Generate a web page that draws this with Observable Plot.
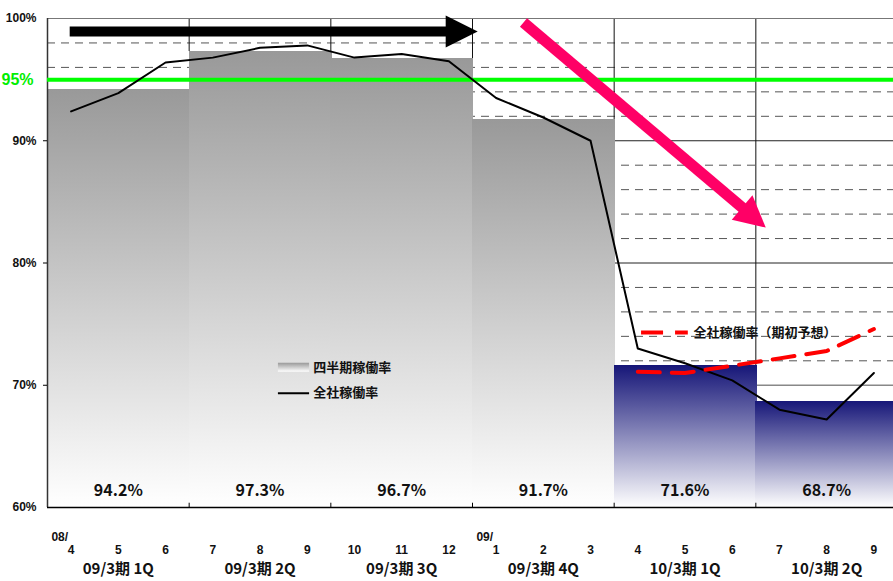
<!DOCTYPE html>
<html><head><meta charset="utf-8">
<script src="https://cdn.jsdelivr.net/npm/d3@7"></script>
<script src="https://cdn.jsdelivr.net/npm/@observablehq/plot@0.6"></script>
<style>body{margin:0;background:#fff;} svg{display:block}</style>
</head><body><div id="chart"></div>
<script>
// ---- data ----
const quarters = ["09/3期 1Q","09/3期 2Q","09/3期 3Q","09/3期 4Q","10/3期 1Q","10/3期 2Q"];
const quarterRates = [94.2, 97.3, 96.7, 91.7, 71.6, 68.7];
const months = ["4","5","6","7","8","9","10","11","12","1","2","3","4","5","6","7","8","9"];
const yearLabels = ["08/","09/"];
const yearStartIdx = [0, 9];
const monthlyRates = [92.4, 93.9, 96.4, 96.8, 97.6, 97.8, 96.8, 97.1, 96.5, 93.5, 91.9, 90.0, 73.0, 71.8, 70.4, 68.0, 67.2, 71.0];
const forecastRates = [71.1, 71.0, 71.6, 72.2, 72.8, 74.6];
const forecastStartIdx = 12;
const targetRate = 95;
const targetLabel = "95%";
const yTicks = [60, 70, 80, 90, 100];
const yTickLabels = ["60%","70%","80%","90%","100%"];
const legendBars = "四半期稼働率";
const legendLine = "全社稼働率";
const legendForecast = "全社稼働率（期初予想）";
// annotation arrows in data space [monthIndex, rate]
const blackArrow = [[-0.03, 98.93], [8.61, 98.93]];
const pinkArrow = [[9.58, 99.67], [14.71, 82.9]];

// ---- derived ----
const barTable = quarters.map((q, i) => ({q, rate: quarterRates[i], i}));
const monthTable = months.map((m, i) => ({m, i, rate: monthlyRates[i]}));
const forecastTable = forecastRates.map((v, k) => ({i: forecastStartIdx + k, rate: v}));
const boundaryTable = d3.range(1, quarters.length).map(k => ({x: k * 3 - 0.5, top: Math.max(quarterRates[k - 1], quarterRates[k])}));
const minorGrid = d3.range(62, 100, 2).filter(v => v % 10 !== 0);
const majorGrid = [80, 90];

const xDomain = [-0.5, months.length - 0.5];
const xRange = [47, 897];
const yDomain = [60, 100];
const yRange = [507, 18];
const X = d3.scaleLinear(xDomain, xRange);
const Y = d3.scaleLinear(yDomain, yRange);

function arrowParts(a, headLen, headHalf) {
  const [x1, y1] = a[0], [x2, y2] = a[1];
  const px1 = X(x1), py1 = Y(y1), px2 = X(x2), py2 = Y(y2);
  const ang = Math.atan2(py2 - py1, px2 - px1);
  const c = Math.cos(ang), s = Math.sin(ang);
  const bx = X.invert(px2 - (headLen - 2) * c), by = Y.invert(py2 - (headLen - 2) * s);
  const rot = (u, v) => [u * c - v * s, u * s + v * c];
  const symbol = {draw(ctx) {
    const p0 = rot(0, 0), p1 = rot(-headLen, -headHalf), p2 = rot(-headLen, headHalf);
    ctx.moveTo(p0[0], p0[1]); ctx.lineTo(p1[0], p1[1]); ctx.lineTo(p2[0], p2[1]); ctx.closePath();
  }};
  return {shaft: {x1, y1, x2: bx, y2: by}, tip: {x: x2, y: y2}, symbol};
}
const aBlack = arrowParts(blackArrow, 32, 16);
const aPink = arrowParts(pinkArrow, 31, 16);

const narrow = "'Liberation Sans Narrow','Arial Narrow','Liberation Sans',Arial,sans-serif";
const cjk = "'Noto Sans CJK JP','Noto Sans CJK SC',sans-serif";
const overlap = 0.03;

const svg = Plot.plot({
  width: 893, height: 581,
  marginLeft: 47, marginRight: 0, marginTop: 18, marginBottom: 74,
  x: {type: "linear", domain: xDomain, range: xRange, axis: null},
  y: {type: "linear", domain: yDomain, range: yRange, axis: null},
  style: {background: "#fff", overflow: "visible"},
  marks: [
    // grid behind bars
    Plot.ruleY(minorGrid, {stroke: "#555", strokeWidth: 1, strokeDasharray: "8,6"}),
    Plot.ruleY(majorGrid, {stroke: "#222", strokeWidth: 1}),
    Plot.ruleY([70], {stroke: "#888", strokeWidth: 1.5}),
    Plot.ruleX(boundaryTable, {x: "x", y1: "top", y2: 100, stroke: "#111", strokeWidth: 1}),
    Plot.ruleY([100], {stroke: "#777", strokeWidth: 1.2}),
    // bars
    Plot.rect(barTable.filter(d => d.i < 4), {x1: d => d.i * 3 - 0.5, x2: d => d.i * 3 + 2.5 + overlap, y1: 60, y2: "rate", fill: "url(#gGray)", shapeRendering: "crispEdges"}),
    Plot.rect(barTable.filter(d => d.i >= 4), {x1: d => d.i * 3 - 0.5, x2: d => d.i * 3 + 2.5 + overlap, y1: 60, y2: "rate", fill: "url(#gNavy)", shapeRendering: "crispEdges"}),
    // frame / axes
    Plot.ruleX([xDomain[0]], {y1: 60, y2: 100, stroke: "#333", strokeWidth: 1.5}),
    Plot.ruleY([60], {stroke: "#000", strokeWidth: 1.5}),
    Plot.ruleX(boundaryTable, {x: "x", y1: 60, y2: 60.35, stroke: "#000", strokeWidth: 1}),
    Plot.ruleY([70, 80, 90], {x1: xDomain[0] - 0.085, x2: xDomain[0], stroke: "#000", strokeWidth: 1}),
    Plot.text(yTicks, {x: xDomain[0], y: d => d, text: (d, i) => yTickLabels[i], textAnchor: "end", dx: -11, fontSize: 12, fontWeight: "bold", fontFamily: narrow, fill: "#111"}),
    // target line
    Plot.ruleY([targetRate], {stroke: "#00ff00", strokeWidth: 4}),
    Plot.text([targetRate], {x: xDomain[0], y: d => d, text: () => targetLabel, textAnchor: "start", dx: -46, fontSize: 16, fontWeight: "bold", fontFamily: narrow, fill: "#00ee00"}),
    // black arrow
    Plot.link([aBlack.shaft], {x1: "x1", y1: "y1", x2: "x2", y2: "y2", stroke: "#000", strokeWidth: 10, strokeLinecap: "butt"}),
    Plot.dot([aBlack.tip], {x: "x", y: "y", symbol: aBlack.symbol, fill: "#000", stroke: "none"}),
    // monthly line
    Plot.line(monthTable, {x: "i", y: "rate", stroke: "#000", strokeWidth: 2}),
    // forecast
    Plot.line(forecastTable, {x: "i", y: "rate", stroke: "#ff0000", strokeWidth: 4, strokeDasharray: "22,12"}),
    // quarter values
    Plot.text(barTable, {x: d => d.i * 3 + 1, y: 60, dy: -17, text: d => d.rate.toFixed(1) + "%", fontSize: 16, fontWeight: "bold", fontFamily: cjk, fill: "#111"}),
    // x labels
    Plot.text(monthTable, {x: "i", y: 60, dy: 43, text: "m", fontSize: 12, fontWeight: "bold", fontFamily: narrow, fill: "#111"}),
    Plot.text(yearStartIdx, {x: d => d, y: 60, dy: 30, text: (d, i) => yearLabels[i], textAnchor: "end", dx: -3, fontSize: 12, fontWeight: "bold", fontFamily: narrow, fill: "#111"}),
    Plot.text(barTable, {x: d => d.i * 3 + 1, y: 60, dy: 62, text: "q", fontSize: 15, fontWeight: "bold", fontFamily: cjk, fill: "#111"}),
    // legends
    Plot.rect([0], {x1: 4.39, x2: 5.05, y1: 71.07, y2: 71.8, fill: "url(#gGray)"}),
    Plot.text([legendBars], {x: 5.13, y: 71.45, text: d => d, textAnchor: "start", fontSize: 13, fontWeight: "bold", fontFamily: cjk, fill: "#111"}),
    Plot.ruleY([69.34], {x1: 4.39, x2: 5.05, stroke: "#000", strokeWidth: 2}),
    Plot.text([legendLine], {x: 5.13, y: 69.34, text: d => d, textAnchor: "start", fontSize: 13, fontWeight: "bold", fontFamily: cjk, fill: "#111"}),
    Plot.ruleY([74.31], {x1: 12.08, x2: 13.07, stroke: "#ff0000", strokeWidth: 4, strokeDasharray: "22,12"}),
    Plot.text([legendForecast], {x: 13.18, y: 74.31, text: d => d, textAnchor: "start", fontSize: 13, fontWeight: "bold", fontFamily: cjk, fill: "#111"}),
    // pink arrow
    Plot.link([aPink.shaft], {x1: "x1", y1: "y1", x2: "x2", y2: "y2", stroke: "#ff0066", strokeWidth: 11, strokeLinecap: "butt"}),
    Plot.dot([aPink.tip], {x: "x", y: "y", symbol: aPink.symbol, fill: "#ff0066", stroke: "none"})
  ]
});

const defs = d3.select(svg).insert("defs", ":first-child");
function grad(id, top, bottom) {
  const g = defs.append("linearGradient").attr("id", id).attr("x1", 0).attr("y1", 0).attr("x2", 0).attr("y2", 1);
  g.append("stop").attr("offset", 0).attr("stop-color", top);
  g.append("stop").attr("offset", 1).attr("stop-color", bottom);
}
grad("gGray", "#999999", "#ffffff");
grad("gNavy", "#161678", "#ffffff");
document.getElementById("chart").appendChild(svg);
</script>
</body></html>
